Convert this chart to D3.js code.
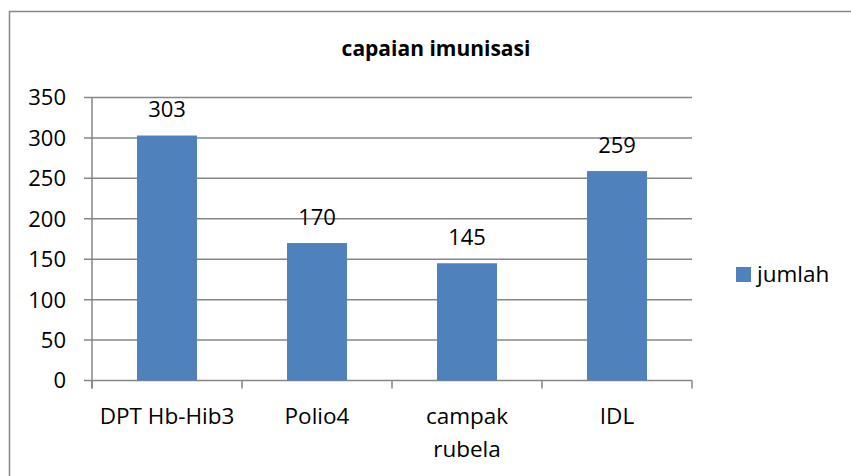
<!DOCTYPE html>
<html><head><meta charset="utf-8">
<script src="https://cdn.jsdelivr.net/npm/d3@7"></script>
<style>body{margin:0;background:#fff}svg{display:block}</style>
</head><body>
<svg id="c" width="851" height="476"></svg>
<script>
const categories = [["DPT Hb-Hib3"], ["Polio4"], ["campak", "rubela"], ["IDL"]];
const values = [303, 170, 145, 259];
const yTicks = [0, 50, 100, 150, 200, 250, 300, 350];
const seriesName = "jumlah";
const title = "capaian imunisasi";

(function () {
const svg = d3.select("#c");
const font = "'Open Sans', sans-serif";
const grid = "#868686";
const barColor = "#4f81bd";

svg.append("rect").attr("x", 9.5).attr("y", 11.5).attr("width", 860).attr("height", 480)
  .attr("fill", "none").attr("stroke", grid).attr("stroke-width", 1.5);

const pL = 92, pR = 692, pT = 97.5, pB = 380.5;
const x = d3.scaleBand().domain(d3.range(categories.length)).range([pL, pR]).paddingInner(0.6).paddingOuter(0.3);
const y = d3.scaleLinear().domain([0, 350]).range([pB, pT]);

svg.append("g").selectAll("line").data(yTicks).join("line")
  .attr("x1", pL - 8).attr("x2", pR).attr("y1", d => y(d)).attr("y2", d => y(d))
  .attr("stroke", grid).attr("stroke-width", 1.5);

svg.append("g").selectAll("rect").data(values).join("rect")
  .attr("x", (d, i) => x(i)).attr("width", x.bandwidth())
  .attr("y", d => y(d)).attr("height", d => y(0) - y(d)).attr("fill", barColor);

svg.append("line").attr("x1", pL).attr("x2", pL).attr("y1", pT).attr("y2", pB + 8)
  .attr("stroke", grid).attr("stroke-width", 1.5);
const xb = d3.scaleLinear().domain([0, categories.length]).range([pL, pR]);
svg.append("g").selectAll("line").data(d3.range(categories.length + 1)).join("line")
  .attr("x1", d => xb(d)).attr("x2", d => xb(d)).attr("y1", pB).attr("y2", pB + 8)
  .attr("stroke", grid).attr("stroke-width", 1.5);

svg.append("g").selectAll("text").data(yTicks).join("text")
  .attr("x", 66).attr("y", d => y(d)).attr("dy", "0.36em").attr("text-anchor", "end")
  .attr("font-family", font).attr("font-size", 22).attr("fill", "#000").text(d => d);

const cat = svg.append("g").selectAll("text").data(categories).join("text")
  .attr("x", (d, i) => x(i) + x.bandwidth() / 2).attr("y", 424).attr("text-anchor", "middle")
  .attr("font-family", font).attr("font-size", 22.5).attr("fill", "#000");
cat.selectAll("tspan").data(d => d).join("tspan")
  .attr("x", function () { return this.parentNode.getAttribute("x"); })
  .attr("dy", (d, j) => j === 0 ? 0 : 33).text(d => d);

svg.append("g").selectAll("text").data(values).join("text")
  .attr("x", (d, i) => x(i) + x.bandwidth() / 2).attr("y", d => y(d) - 18.5)
  .attr("text-anchor", "middle").attr("font-family", font).attr("font-size", 22)
  .attr("fill", "#000").text(d => d);

svg.append("text").attr("x", 436).attr("y", 56).attr("text-anchor", "middle")
  .attr("font-family", font).attr("font-size", 21).attr("font-weight", "bold").text(title);

svg.append("rect").attr("x", 736).attr("y", 267).attr("width", 15).attr("height", 15).attr("fill", barColor);
svg.append("text").attr("x", 757).attr("y", 282).attr("font-family", font).attr("font-size", 22.5).text(seriesName);
})();
</script>
</body></html>
